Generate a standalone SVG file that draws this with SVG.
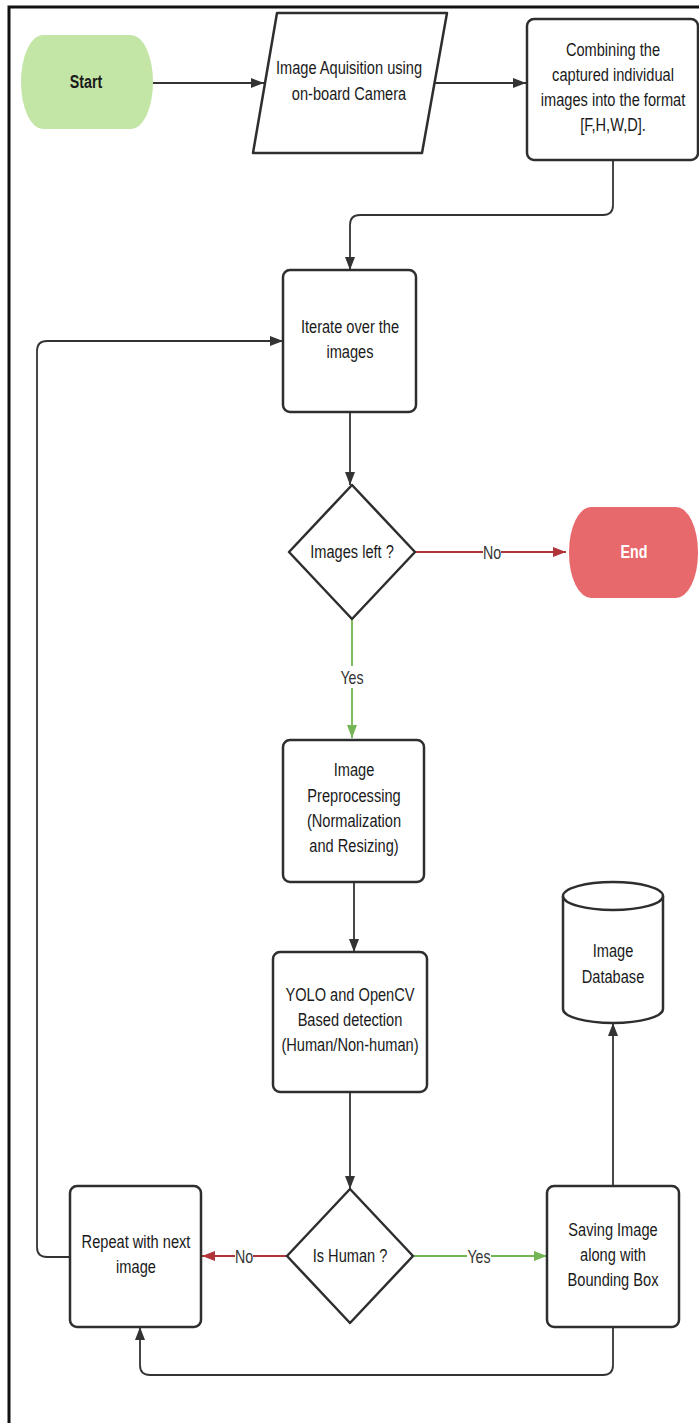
<svg xmlns="http://www.w3.org/2000/svg" width="699" height="1423" viewBox="0 0 699 1423">
<defs>
<style>
.node{fill:#fff;stroke:#2e2e2e;stroke-width:2.5;stroke-linejoin:round}
.t{font-family:"Liberation Sans",Arial,sans-serif;font-size:18.5px;fill:#1a1a1a;text-anchor:middle;dominant-baseline:central}
.b{font-weight:bold}
.w{fill:#fff}
.c{fill:none;stroke:#333;stroke-width:1.8}
.red{stroke:#b0353b}
.grn{stroke:#72b552}
.lbl{font-family:"Liberation Sans",Arial,sans-serif;font-size:18px;fill:#333;text-anchor:middle;dominant-baseline:central}
</style>
<marker id="ab" viewBox="0 0 13 10" refX="13" refY="5" markerWidth="13" markerHeight="10" markerUnits="userSpaceOnUse" orient="auto"><path d="M0,0 L13,5 L0,10 z" fill="#333"/></marker>
<marker id="ar" viewBox="0 0 13 10" refX="13" refY="5" markerWidth="13" markerHeight="10" markerUnits="userSpaceOnUse" orient="auto"><path d="M0,0 L13,5 L0,10 z" fill="#b0353b"/></marker>
<marker id="ag" viewBox="0 0 13 10" refX="13" refY="5" markerWidth="13" markerHeight="10" markerUnits="userSpaceOnUse" orient="auto"><path d="M0,0 L13,5 L0,10 z" fill="#72b552"/></marker>
</defs>
<rect width="699" height="1423" fill="#fff"/>
<path d="M9,1423 V7 H699" fill="none" stroke="#111" stroke-width="3"/>

<g id="connectors">
<path class="c" d="M153,83 H264" marker-end="url(#ab)"/>
<path class="c" d="M435,83 H526" marker-end="url(#ab)"/>
<path class="c" d="M613,160 V205 Q613,215 603,215 H360 Q350,215 350,225 V270" marker-end="url(#ab)"/>
<path class="c" d="M350,412 V485" marker-end="url(#ab)"/>
<path class="c red" d="M415,552 H566" marker-end="url(#ar)"/>
<rect x="483" y="542" width="18" height="20" fill="#fff"/>
<text class="lbl" transform="translate(492,552) scale(0.79,1)">No</text>
<path class="c grn" d="M352,619 V738" marker-end="url(#ag)"/>
<rect x="340" y="666" width="24" height="22" fill="#fff"/>
<text class="lbl" transform="translate(352,677) scale(0.79,1)">Yes</text>
<path class="c" d="M354,882 V952" marker-end="url(#ab)"/>
<path class="c" d="M350,1092 V1189" marker-end="url(#ab)"/>
<path class="c red" d="M287,1256 H202" marker-end="url(#ar)"/>
<rect x="235" y="1246" width="18" height="20" fill="#fff"/>
<text class="lbl" transform="translate(244,1256) scale(0.79,1)">No</text>
<path class="c grn" d="M413,1256 H547" marker-end="url(#ag)"/>
<rect x="467" y="1245" width="24" height="22" fill="#fff"/>
<text class="lbl" transform="translate(479,1256) scale(0.79,1)">Yes</text>
<path class="c" d="M613,1186 V1023" marker-end="url(#ab)"/>
<path class="c" d="M613,1327 V1365 Q613,1375 603,1375 H150 Q140,1375 140,1365 V1327" marker-end="url(#ab)"/>
<path class="c" d="M70,1257 H47 Q37,1257 37,1247 V351 Q37,341 47,341 H283" marker-end="url(#ab)"/>
</g>

<g id="start">
<rect x="21" y="35" width="132" height="94" rx="22" ry="47" fill="#c3e5a6"/>
<text class="t b" transform="translate(86,81) scale(0.77,1)">Start</text>
</g>

<g id="acquisition">
<path class="node" d="M277,13 H447 L422,153 H253 Z"/>
<text class="t" transform="translate(349,68) scale(0.79,1)">Image Aquisition using</text>
<text class="t" transform="translate(349,94) scale(0.79,1)">on-board Camera</text>
</g>

<g id="combining">
<rect class="node" x="527" y="19" width="171" height="141" rx="7"/>
<text class="t" transform="translate(613,50) scale(0.79,1)">Combining the</text>
<text class="t" transform="translate(613,75) scale(0.79,1)">captured individual</text>
<text class="t" transform="translate(613,100) scale(0.79,1)">images into the format</text>
<text class="t" transform="translate(613,125) scale(0.79,1)">[F,H,W,D].</text>
</g>

<g id="iterate">
<rect class="node" x="283" y="270" width="133" height="142" rx="7"/>
<text class="t" transform="translate(350,327) scale(0.79,1)">Iterate over the</text>
<text class="t" transform="translate(350,352) scale(0.79,1)">images</text>
</g>

<g id="images-left">
<polygon class="node" points="352,485 415,552 352,619 289,552"/>
<text class="t" transform="translate(352,552) scale(0.79,1)">Images left ?</text>
</g>

<g id="end">
<rect x="569" y="507" width="129" height="91" rx="22" ry="45" fill="#e8696b"/>
<text class="t b w" transform="translate(634,551) scale(0.77,1)">End</text>
</g>

<g id="preprocessing">
<rect class="node" x="283" y="740" width="141" height="142" rx="7"/>
<text class="t" transform="translate(354,770) scale(0.79,1)">Image</text>
<text class="t" transform="translate(354,796) scale(0.79,1)">Preprocessing</text>
<text class="t" transform="translate(354,821) scale(0.79,1)">(Normalization</text>
<text class="t" transform="translate(354,846) scale(0.79,1)">and Resizing)</text>
</g>

<g id="yolo">
<rect class="node" x="273" y="952" width="154" height="140" rx="7"/>
<text class="t" transform="translate(350,995) scale(0.79,1)">YOLO and OpenCV</text>
<text class="t" transform="translate(350,1020) scale(0.79,1)">Based detection</text>
<text class="t" transform="translate(350,1045) scale(0.79,1)">(Human/Non-human)</text>
</g>

<g id="is-human">
<polygon class="node" points="350,1189 413,1256 350,1323 287,1256"/>
<text class="t" transform="translate(350,1256) scale(0.79,1)">Is Human ?</text>
</g>

<g id="repeat">
<rect class="node" x="70" y="1186" width="131" height="141" rx="7"/>
<text class="t" transform="translate(136,1242) scale(0.79,1)">Repeat with next</text>
<text class="t" transform="translate(136,1267) scale(0.79,1)">image</text>
</g>

<g id="saving">
<rect class="node" x="547" y="1186" width="132" height="141" rx="7"/>
<text class="t" transform="translate(613,1230) scale(0.79,1)">Saving Image</text>
<text class="t" transform="translate(613,1255) scale(0.79,1)">along with</text>
<text class="t" transform="translate(613,1280) scale(0.79,1)">Bounding Box</text>
</g>

<g id="database">
<path class="node" d="M563,896 V1009 A50,14 0 0 0 663,1009 V896"/>
<ellipse class="node" cx="613" cy="896" rx="50" ry="14"/>
<text class="t" transform="translate(613,951) scale(0.79,1)">Image</text>
<text class="t" transform="translate(613,977) scale(0.79,1)">Database</text>
</g>
</svg>
